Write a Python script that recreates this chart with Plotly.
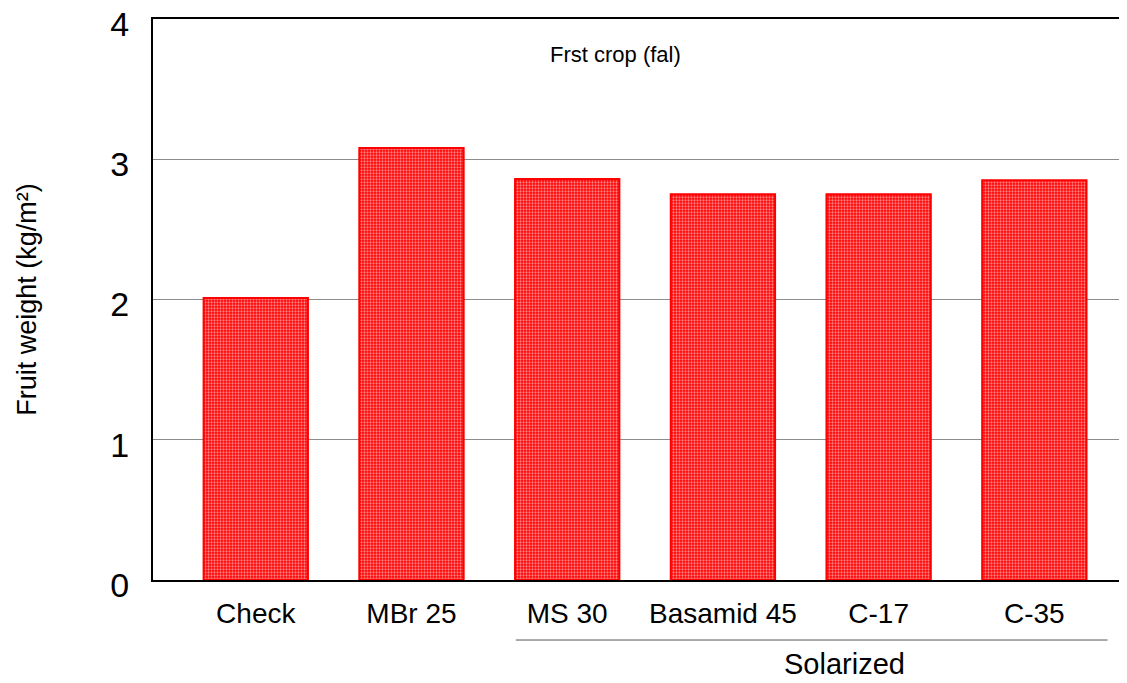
import plotly.graph_objects as go

categories = ["Check", "MBr 25", "MS 30", "Basamid 45", "C-17", "C-35"]
fruit_weight = [2.01, 3.08, 2.86, 2.75, 2.75, 2.85]
y_ticks = [0, 1, 2, 3, 4]
title_text = "Frst crop (fal)"
group_label = "Solarized"

FONT = "Liberation Sans, Arial, sans-serif"

fig = go.Figure()
fig.add_trace(go.Bar(
    x=categories,
    y=fruit_weight,
    width=0.67,
    marker=dict(
        color="#ff0000",
        line=dict(color="#ff0000", width=2),
        pattern=dict(shape=".", fgcolor="white", bgcolor="#ff0000", size=3, solidity=0.45),
    ),
    showlegend=False,
))

# page body has an 8px default margin, so the figure is sized to fit the window
fig.update_layout(
    width=1119, height=675,
    margin=dict(l=145, r=0, t=11, b=103),
    plot_bgcolor="white", paper_bgcolor="white",
    font=dict(family=FONT, color="black"),
)
fig.update_xaxes(
    range=[-0.66, 5.595], automargin=False,
    showline=True, linecolor="black", linewidth=2, mirror=True,
    showgrid=False, ticks="",
    tickfont=dict(size=28, family=FONT),
    ticklabelstandoff=7,
)
fig.update_yaxes(
    range=[0, 4], tickvals=y_ticks, automargin=False,
    ticklabeloverflow="allow",
    showline=True, linecolor="black", linewidth=2,
    showgrid=True, gridcolor="#8c8c8c", gridwidth=1,
    ticks="", tickfont=dict(size=34, family=FONT),
    ticklabelstandoff=15, ticklabelshift=5,
    zeroline=False,
    title=dict(text="Fruit weight (kg/m²)", font=dict(size=27, family=FONT), standoff=66),
)

fig.add_annotation(
    x=0.475, y=0.936, xref="paper", yref="paper",
    text=title_text, showarrow=False,
    font=dict(size=22, family=FONT), xanchor="center", yanchor="middle",
)
fig.add_shape(
    type="line", xref="x", yref="paper",
    x0=1.67, x1=5.47, y0=-0.107, y1=-0.107,
    line=dict(color="#555555", width=1),
)
fig.add_annotation(
    x=3.78, y=-0.15, xref="x", yref="paper",
    text=group_label, showarrow=False,
    font=dict(size=29, family=FONT), xanchor="center", yanchor="middle",
)

fig.write_html("out.html")
